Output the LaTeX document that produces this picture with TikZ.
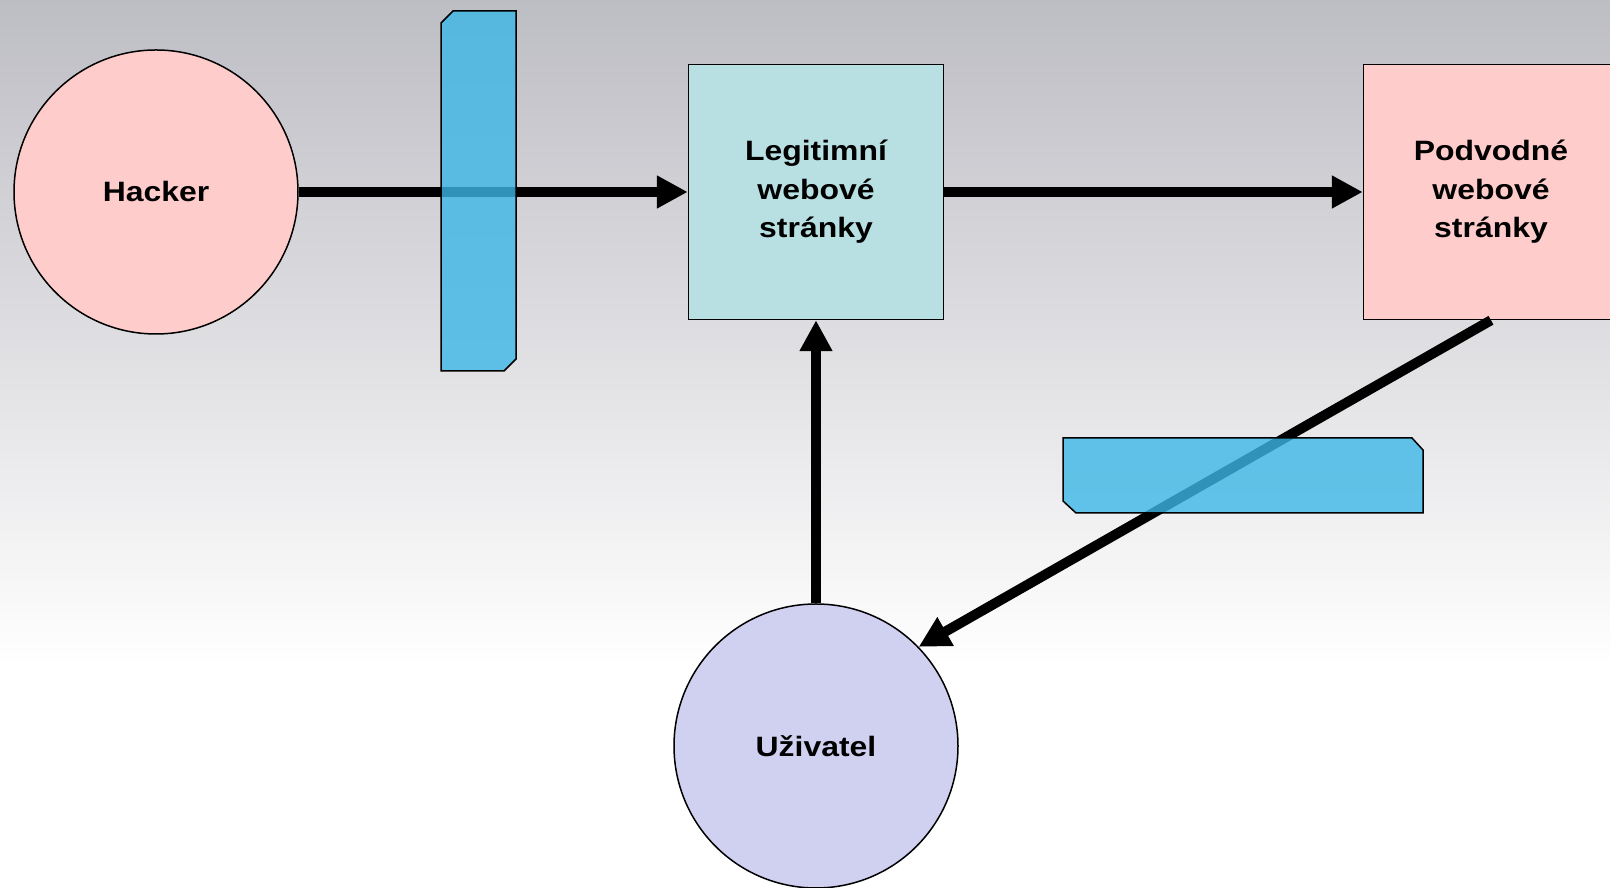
\documentclass[tikz,border=0pt]{standalone}
\usepackage{fontspec}
\setmainfont{Liberation Sans}[FakeStretch=1.14]
\usetikzlibrary{arrows.meta}

\definecolor{hackpink}{RGB}{255,204,204}
\definecolor{sitecyan}{RGB}{184,224,227}
\definecolor{userblue}{RGB}{208,208,240}
\definecolor{barblue}{RGB}{61,183,230}
\definecolor{bgtop}{RGB}{189,189,196}

\tikzset{
  label font/.style={font=\fontsize{28}{38.5}\selectfont\bfseries, align=center},
  actor/.style={circle, draw, line width=1.5pt, minimum size=284pt, inner sep=0pt, label font},
  site/.style={rectangle, draw, line width=1.5pt, minimum width=255pt, minimum height=255pt, inner sep=0pt, label font},
  flow/.style={line width=10pt, -{Triangle[length=31pt,width=31pt]}},
  bar/.style={draw, line width=1.5pt, fill=barblue, fill opacity=0.8, draw opacity=1}
}

\begin{document}
\begin{tikzpicture}[x=1pt, y=1pt]

  % Background
  \useasboundingbox (0,0) rectangle (1610,888);
  \fill[white] (0,0) rectangle (1610,221);
  \shade[top color=bgtop, bottom color=white] (0,221) rectangle (1610,888);

  % Parties
  \node[actor, fill=hackpink] (hacker) at (156,696) {Hacker};
  \node[site, fill=sitecyan] (legit) at (816,696) {Legitimní\\webové\\stránky};
  \node[site, fill=hackpink] (fake) at (1491,696) {Podvodné\\webové\\stránky};
  \node[actor, fill=userblue] (user) at (816,142) {Uživatel};

  % Flows
  \draw[flow] (hacker.east) -- (legit.west);
  \draw[flow] (legit.east) -- (fake.west);
  \draw[flow] (user.north) -- (legit.south);
  \draw[flow] (fake.south) -- (user.44);

  % Barriers
  \draw[bar] (441,865) -- (453,877) -- (516,877) -- (516,529) -- (504,517) -- (441,517) -- cycle;
  \draw[bar] (1063,450) -- (1412,450) -- (1423,438) -- (1423,375) -- (1076,375) -- (1063,387) -- cycle;

\end{tikzpicture}
\end{document}
